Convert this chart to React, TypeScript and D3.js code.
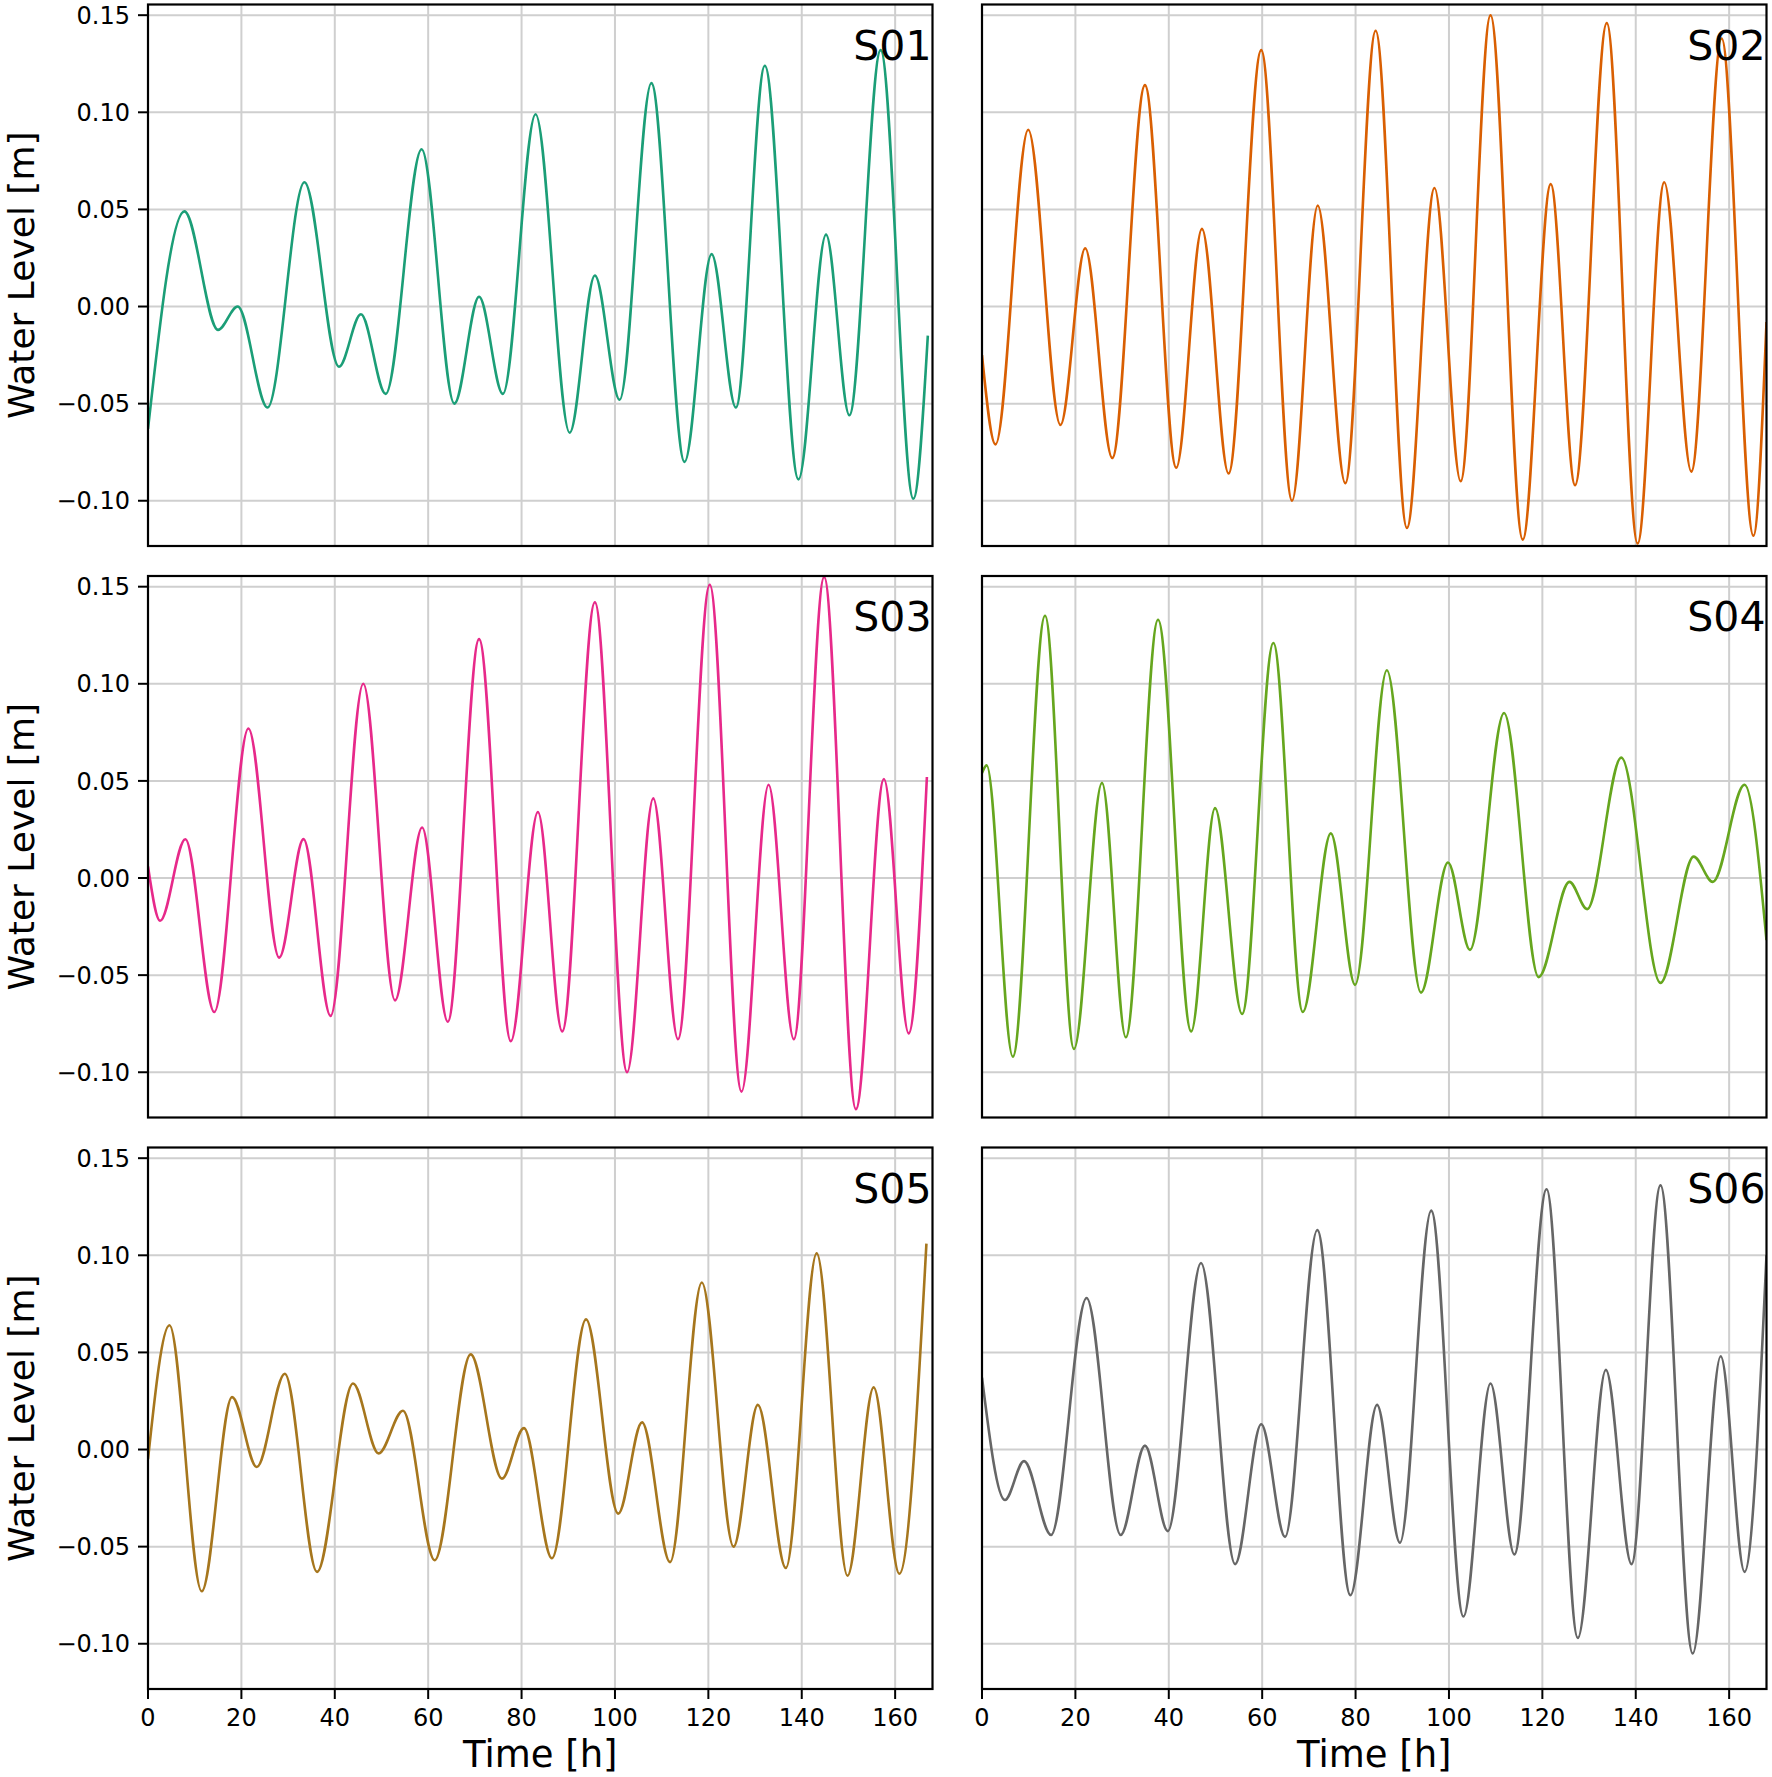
import React from "react";
import * as d3 from "d3";

// tick values
const HOUR_TICKS = [0, 20, 40, 60, 80, 100, 120, 140, 160];
const LEVEL_TICKS = [-0.1, -0.05, 0, 0.05, 0.1, 0.15];

const STATIONS = ["S01", "S02", "S03", "S04", "S05", "S06"];
const COLORS = ["#1b9e77", "#d95f02", "#e7298a", "#66a61e", "#a6761d", "#666666"];

// turning points (hour, water level in m)
const S01_T = [0, 7.8, 15.0, 19.2, 25.6, 33.5, 40.9, 45.6, 50.9, 58.6, 65.6, 70.9, 76.0, 83.0, 90.3, 95.7, 101.0, 107.8, 114.9, 120.7, 125.9, 132.1, 139.3, 145.2, 150.2, 156.9, 163.9, 167.0];
const S01_V = [-0.063, 0.049, -0.012, 0.0, -0.052, 0.064, -0.031, -0.004, -0.045, 0.081, -0.05, 0.005, -0.045, 0.099, -0.065, 0.016, -0.048, 0.115, -0.08, 0.027, -0.052, 0.124, -0.089, 0.037, -0.056, 0.132, -0.099, -0.015];

const S02_T = [0, 2.9, 9.9, 16.8, 22.1, 27.9, 34.9, 41.6, 47.1, 52.8, 59.8, 66.4, 71.9, 77.8, 84.3, 91.0, 96.9, 102.5, 108.9, 115.8, 121.8, 127.0, 133.8, 140.4, 146.1, 151.9, 158.4, 165.2, 168.0];
const S02_V = [-0.025, -0.071, 0.091, -0.061, 0.03, -0.078, 0.114, -0.083, 0.04, -0.086, 0.132, -0.1, 0.052, -0.091, 0.142, -0.114, 0.061, -0.09, 0.15, -0.12, 0.063, -0.092, 0.146, -0.122, 0.064, -0.085, 0.138, -0.118, -0.008];

const S03_T = [0, 2.6, 8.0, 14.2, 21.5, 28.1, 33.3, 39.1, 46.1, 52.9, 58.7, 64.2, 70.9, 77.7, 83.5, 88.7, 95.7, 102.6, 108.2, 113.5, 120.3, 127.1, 132.9, 138.3, 144.8, 151.6, 157.6, 162.9, 166.8];
const S03_V = [0.006, -0.022, 0.02, -0.069, 0.077, -0.041, 0.02, -0.071, 0.1, -0.063, 0.026, -0.074, 0.123, -0.084, 0.034, -0.079, 0.142, -0.1, 0.041, -0.083, 0.151, -0.11, 0.048, -0.083, 0.155, -0.119, 0.051, -0.08, 0.052];

const S04_T = [0, 1.0, 6.6, 13.5, 19.7, 25.7, 30.8, 37.7, 44.8, 49.9, 55.7, 62.4, 68.7, 74.7, 79.9, 86.7, 94.0, 99.8, 104.5, 111.8, 119.2, 125.8, 129.6, 136.9, 145.3, 152.4, 156.5, 163.3, 168.0];
const S04_V = [0.054, 0.058, -0.092, 0.135, -0.088, 0.049, -0.082, 0.133, -0.079, 0.036, -0.07, 0.121, -0.069, 0.023, -0.055, 0.107, -0.059, 0.008, -0.037, 0.085, -0.051, -0.002, -0.016, 0.062, -0.054, 0.011, -0.002, 0.048, -0.032];

const S05_T = [0, 4.6, 11.5, 18.0, 23.3, 29.3, 36.2, 43.9, 49.4, 54.6, 61.4, 69.1, 75.8, 80.5, 86.5, 93.8, 100.7, 105.8, 111.8, 118.6, 125.4, 130.6, 136.6, 143.2, 149.8, 155.4, 160.9, 166.7];
const S05_V = [-0.005, 0.064, -0.073, 0.027, -0.009, 0.039, -0.063, 0.034, -0.002, 0.02, -0.057, 0.049, -0.015, 0.011, -0.056, 0.067, -0.033, 0.014, -0.058, 0.086, -0.05, 0.023, -0.061, 0.101, -0.065, 0.032, -0.064, 0.106];

const S06_T = [0, 4.9, 9.0, 14.8, 22.4, 29.7, 34.9, 39.8, 46.9, 54.2, 59.8, 64.9, 71.8, 78.9, 84.6, 89.5, 96.2, 103.1, 108.9, 114.0, 120.9, 127.6, 133.6, 139.1, 145.3, 152.2, 158.2, 163.3, 168.0];
const S06_V = [0.037, -0.026, -0.006, -0.044, 0.078, -0.044, 0.002, -0.042, 0.096, -0.059, 0.013, -0.045, 0.113, -0.075, 0.023, -0.048, 0.123, -0.086, 0.034, -0.054, 0.134, -0.097, 0.041, -0.059, 0.136, -0.105, 0.048, -0.063, 0.1];

const SERIES: [number[], number[]][] = [
    [S01_T, S01_V],
    [S02_T, S02_V],
    [S03_T, S03_V],
    [S04_T, S04_V],
    [S05_T, S05_V],
    [S06_T, S06_V],
];

const WIDTH = 1772;
const HEIGHT = 1777;
const COL_X = [148, 982];
const ROW_Y = [4.5, 576, 1147.5];
const PANEL_W = 784.5;
const PANEL_H = 541.5;
const FONT = "DejaVu Sans, Liberation Sans, sans-serif";

const fmtLevel = d3.format(".2f");

function Panel({ index }: { index: number }) {
    const col = index % 2;
    const row = Math.floor(index / 2);
    const x0 = COL_X[col];
    const y0 = ROW_Y[row];

    const x = d3.scaleLinear().domain([0, 168]).range([x0, x0 + PANEL_W]);
    const y = d3.scaleLinear().domain([-0.1233, 0.1555]).range([y0 + PANEL_H, y0]);

    const [ts, vs] = SERIES[index];
    const pts = ts.map((t, i) => [t, vs[i]] as [number, number]);
    const line = d3.line<[number, number]>()
        .x(d => x(d[0]))
        .y(d => y(d[1]))
        .curve(d3.curveMonotoneX);

    const clipId = `clip-${index}`;
    const showY = col === 0;
    const showX = row === 2;

    return (
        <g>
            <defs>
                <clipPath id={clipId}>
                    <rect x={x0} y={y0} width={PANEL_W} height={PANEL_H} />
                </clipPath>
            </defs>
            {/* grid */}
            {HOUR_TICKS.map(t => (
                <line key={"gx" + t} x1={x(t)} x2={x(t)} y1={y0} y2={y0 + PANEL_H}
                    stroke="#cfcfcf" strokeWidth={2} />
            ))}
            {LEVEL_TICKS.map(v => (
                <line key={"gy" + v} x1={x0} x2={x0 + PANEL_W} y1={y(v)} y2={y(v)}
                    stroke="#cfcfcf" strokeWidth={2} />
            ))}
            <path d={line(pts) || ""} fill="none" stroke={COLORS[index]} strokeWidth={2.6}
                strokeLinejoin="round" clipPath={`url(#${clipId})`} />
            <rect x={x0} y={y0} width={PANEL_W} height={PANEL_H} fill="none" stroke="#000" strokeWidth={2.2} />
            <text x={x0 + PANEL_W - 1} y={y0 + 55} textAnchor="end" fontFamily={FONT} fontSize={41} fill="#000">
                {STATIONS[index]}
            </text>
            {showY && LEVEL_TICKS.map(v => (
                <g key={"ty" + v}>
                    <line x1={x0 - 10} x2={x0} y1={y(v)} y2={y(v)} stroke="#000" strokeWidth={2} />
                    <text x={x0 - 18} y={y(v)} dy="0.36em" textAnchor="end" fontFamily={FONT} fontSize={24} fill="#000">
                        {fmtLevel(v)}
                    </text>
                </g>
            ))}
            {showY && (
                <text transform={`translate(34,${y0 + PANEL_H / 2}) rotate(-90)`} textAnchor="middle"
                    fontFamily={FONT} fontSize={36} fill="#000">
                    Water Level [m]
                </text>
            )}
            {showX && HOUR_TICKS.map(t => (
                <g key={"tx" + t}>
                    <line x1={x(t)} x2={x(t)} y1={y0 + PANEL_H} y2={y0 + PANEL_H + 10} stroke="#000" strokeWidth={2} />
                    <text x={x(t)} y={y0 + PANEL_H + 37} textAnchor="middle" fontFamily={FONT} fontSize={24} fill="#000">
                        {t}
                    </text>
                </g>
            ))}
            {showX && (
                <text x={x0 + PANEL_W / 2} y={1767} textAnchor="middle" fontFamily={FONT} fontSize={37} fill="#000">
                    Time [h]
                </text>
            )}
        </g>
    );
}

export default function App() {
    return (
        <svg width={WIDTH} height={HEIGHT} viewBox={`0 0 ${WIDTH} ${HEIGHT}`}
            style={{ position: "absolute", left: 0, top: 0, background: "#fff" }}>
            <rect width={WIDTH} height={HEIGHT} fill="#fff" />
            {STATIONS.map((s, i) => <Panel key={s} index={i} />)}
        </svg>
    );
}
